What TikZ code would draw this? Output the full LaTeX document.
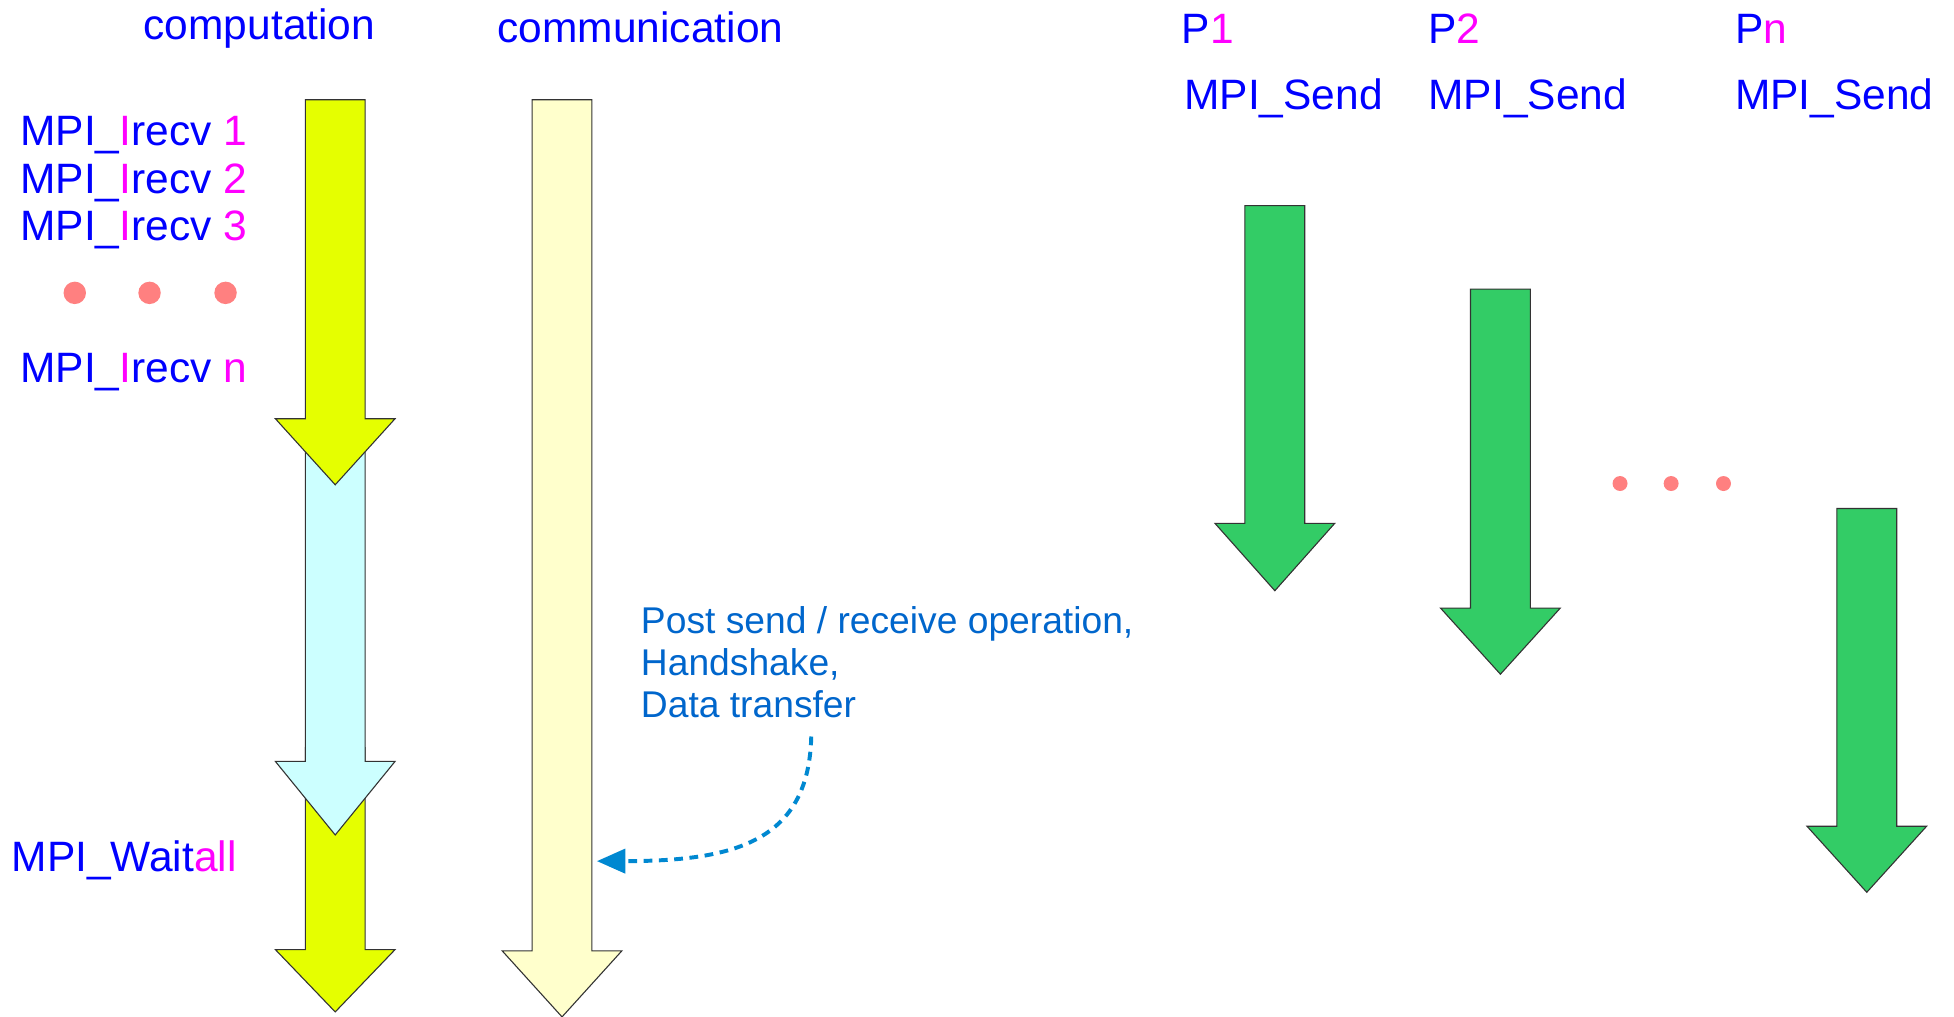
\documentclass[tikz,border=0pt]{standalone}
\usepackage{fontspec}
\setmainfont{Liberation Sans}
\usetikzlibrary{arrows.meta}
\definecolor{txtblue}{RGB}{0,0,255}
\definecolor{txtmag}{RGB}{255,0,255}
\definecolor{annblue}{RGB}{0,102,204}
\definecolor{curveblue}{RGB}{0,136,209}
\definecolor{compyel}{RGB}{229,255,0}
\definecolor{commyel}{RGB}{255,255,204}
\definecolor{waitcyan}{RGB}{204,255,255}
\definecolor{sendgreen}{RGB}{51,204,102}
\definecolor{dotsalmon}{RGB}{255,128,128}
\newcommand{\bigarrow}[5]{%
  \draw[#5] (#1-24,#2) -- (#1+24,#2) -- (#1+24,#3) -- (#1+48,#3) -- (#1,#4)
    -- (#1-48,#3) -- (#1-24,#3) -- cycle;}
\begin{document}
\begin{tikzpicture}[x=0.02cm,y=-0.02cm,
  lbl/.style={inner sep=0pt,anchor=base west,text=txtblue,font=\fontsize{19.4}{23}\selectfont},
  ann/.style={inner sep=0pt,anchor=base west,text=annblue,font=\fontsize{17}{19.4}\selectfont},
  arrowshape/.style={draw=black!80,line width=0.5pt},
  bigdot/.style={fill=dotsalmon,draw=none}]
\useasboundingbox[fill=white] (0,0) rectangle (1568,816);

% column titles
\node[lbl] (comp) at (115,32) {computation};
\node[lbl] (comm) at (399,34) {communication};

% left labels
\node[lbl] (ir1) at (16,117) {MPI\_{\color{txtmag}I}recv {\color{txtmag}1}};
\node[lbl] (ir2) at (16,155) {MPI\_{\color{txtmag}I}recv {\color{txtmag}2}};
\node[lbl] (ir3) at (16,193) {MPI\_{\color{txtmag}I}recv {\color{txtmag}3}};
\node[lbl] (irn) at (16,307) {MPI\_{\color{txtmag}I}recv {\color{txtmag}n}};
\node[lbl] (wait) at (9,699) {MPI\_Wait{\color{txtmag}all}};

\fill[bigdot] (60,235) circle (9);
\fill[bigdot] (120,235) circle (9);
\fill[bigdot] (181,235) circle (9);

% computation column arrows
\bigarrow{269}{600}{762}{812}{arrowshape,fill=compyel}
\bigarrow{269}{340}{611}{670}{arrowshape,fill=waitcyan}
\bigarrow{269}{80}{336}{389}{arrowshape,fill=compyel}

% communication arrow
\bigarrow{451}{80}{763}{816}{arrowshape,fill=commyel}

% annotation
\node[ann] (a1) at (514,508) {Post send / receive operation,};
\node[ann] (a2) at (514,542) {Handshake,};
\node[ann] (a3) at (514,576) {Data transfer};
\coordinate (cstart) at (651,591);
\coordinate (cend) at (479,691);
\draw[curveblue,line width=1.8pt,dash pattern=on 4pt off 3pt,
  -{Triangle[length=13pt,width=11pt]}]
  (cstart) .. controls (649,675) and (590,691) .. (cend);

% right side
\node[lbl] (p1) at (948,35) {P{\color{txtmag}1}};
\node[lbl] (s1) at (950,88) {MPI\_Send};
\node[lbl] (p2) at (1146,35) {P{\color{txtmag}2}};
\node[lbl] (s2) at (1146,88) {MPI\_Send};
\node[lbl] (pn) at (1392,35) {P{\color{txtmag}n}};
\node[lbl] (sn) at (1392,88) {MPI\_Send};

\bigarrow{1023}{165}{420}{474}{arrowshape,fill=sendgreen}
\bigarrow{1204}{232}{488}{541}{arrowshape,fill=sendgreen}
\bigarrow{1498}{408}{663}{716}{arrowshape,fill=sendgreen}

\fill[bigdot] (1300,388) circle (6);
\fill[bigdot] (1341,388) circle (6);
\fill[bigdot] (1383,388) circle (6);
\end{tikzpicture}
\end{document}
